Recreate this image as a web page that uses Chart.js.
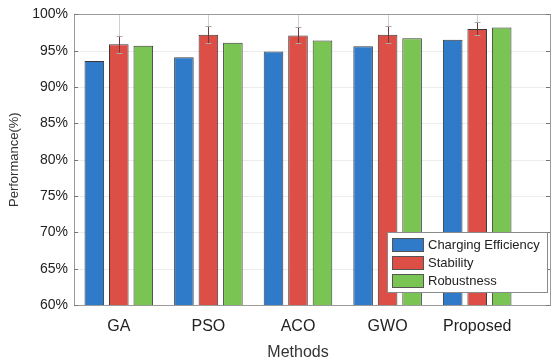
<!DOCTYPE html>
<html><head><meta charset="utf-8">
<script src="https://cdn.jsdelivr.net/npm/chart.js@4"></script>
<style>html,body{margin:0;padding:0;background:#fff}#c{display:block}</style>
</head><body>
<canvas id="c" width="554" height="364"></canvas>
<script>
const categories = ['GA','PSO','ACO','GWO','Proposed'];
const chargingEfficiency = [93.6, 94.1, 94.9, 95.6, 96.5];
const stability = [95.9, 97.2, 97.1, 97.2, 98.0];
const robustness = [95.7, 96.1, 96.4, 96.7, 98.2];
const stabilityError = [1.15, 1.15, 1.1, 1.2, 0.9];
const yTicks = [60,65,70,75,80,85,90,95,100];
const seriesNames = ['Charging Efficiency','Stability','Robustness'];
const colors = ['#2f7bc9','#dd4f46','#79c453'];

const FRAME_RIGHT = 550;
const FONT = '"Liberation Sans", Arial, sans-serif';

const framePlugin = {
  id:'frame',
  beforeDatasetsDraw(chart){
    const {ctx, chartArea:a, scales:{y}} = chart;
    ctx.save();
    ctx.strokeStyle = '#ececec'; ctx.lineWidth = 1;
    yTicks.forEach(t=>{
      const py = Math.round(y.getPixelForValue(t))+0.5;
      ctx.beginPath(); ctx.moveTo(a.left, py); ctx.lineTo(FRAME_RIGHT, py); ctx.stroke();
    });
    ctx.restore();
  },
  afterDatasetsDraw(chart){
    const {ctx, chartArea:a, scales:{y}} = chart;
    ctx.save();
    const meta = chart.getDatasetMeta(1);
    ctx.beginPath(); ctx.rect(a.left, a.top, FRAME_RIGHT-a.left, a.bottom-a.top); ctx.clip();
    meta.data.forEach((bar,i)=>{
      const v = stability[i], e = stabilityError[i];
      const x = Math.round(bar.x)+0.5;
      const yt = y.getPixelForValue(v+e), yb = y.getPixelForValue(v-e);
      ctx.strokeStyle = '#cfcfcf'; ctx.lineWidth = 1;
      ctx.beginPath(); ctx.moveTo(x, a.top); ctx.lineTo(x, yt); ctx.stroke();
      ctx.strokeStyle = '#6a3a38';
      ctx.beginPath(); ctx.moveTo(x, yt); ctx.lineTo(x, yb); ctx.stroke();
      ctx.strokeStyle = '#aaa';
      ctx.beginPath(); ctx.moveTo(x-3, Math.round(yt)+0.5); ctx.lineTo(x+3, Math.round(yt)+0.5); ctx.stroke();
      ctx.beginPath(); ctx.moveTo(x-3, Math.round(yb)+0.5); ctx.lineTo(x+3, Math.round(yb)+0.5); ctx.stroke();
    });
    ctx.restore();
    ctx.save();
    ctx.strokeStyle = '#9a9a9a'; ctx.lineWidth = 1;
    ctx.strokeRect(Math.round(a.left)+0.5, Math.round(a.top)+0.5, FRAME_RIGHT-Math.round(a.left), Math.round(a.bottom-a.top));
    ctx.strokeStyle = '#777';
    yTicks.forEach(t=>{
      const py = Math.round(y.getPixelForValue(t))+0.5;
      ctx.beginPath(); ctx.moveTo(a.left, py); ctx.lineTo(a.left+4, py); ctx.stroke();
      ctx.beginPath(); ctx.moveTo(FRAME_RIGHT-4, py); ctx.lineTo(FRAME_RIGHT, py); ctx.stroke();
    });
    const lx=387, ly=232, lw=160, lh=60;
    ctx.fillStyle='#fff'; ctx.fillRect(lx,ly,lw,lh);
    ctx.strokeStyle='#8a8a8a'; ctx.strokeRect(lx+0.5,ly+0.5,lw,lh);
    ctx.font = '13px '+FONT; ctx.textBaseline='middle'; ctx.textAlign='left';
    seriesNames.forEach((n,i)=>{
      const cy = ly+12+i*18;
      ctx.fillStyle=colors[i]; ctx.fillRect(lx+5, cy-6, 31, 13);
      ctx.strokeStyle='#555'; ctx.strokeRect(lx+5.5, cy-5.5, 31, 13);
      ctx.fillStyle='#222'; ctx.fillText(n, lx+41, cy+1);
    });
    ctx.restore();
  }
};

const mk = (label, data, i) => ({
  label, data, backgroundColor: colors[i], borderColor: '#3a3a3a', borderWidth: 1,
  categoryPercentage: 0.82, barPercentage: 0.8
});

new Chart(document.getElementById('c'), {
  type:'bar',
  data:{ labels: categories, datasets:[
    mk(seriesNames[0], chargingEfficiency, 0),
    mk(seriesNames[1], stability, 1),
    mk(seriesNames[2], robustness, 2)
  ]},
  options:{
    responsive:false, animation:false,
    layout:{ padding:{ left:0, right:32, top:11, bottom:0 } },
    plugins:{ legend:{display:false}, tooltip:{enabled:false} },
    scales:{
      x:{
        grid:{display:false, drawTicks:false}, border:{display:false},
        ticks:{ color:'#222', font:{family:FONT, size:16}, padding:12 },
        title:{ display:true, text:'Methods', color:'#333', font:{family:FONT, size:16}, padding:{top:4,bottom:2} },
        afterFit(s){ s.height = 59; }
      },
      y:{
        min:60, max:100,
        afterBuildTicks(s){ s.ticks = yTicks.map(v=>({value:v})); },
        grid:{display:false, drawTicks:false}, border:{display:false},
        ticks:{ color:'#222', font:{family:FONT, size:14}, padding:6, callback:v=>v+'%' },
        title:{ display:true, text:'Performance(%)', color:'#333', font:{family:FONT, size:13}, padding:{top:7,bottom:0} },
        afterFit(s){ s.width = 74; }
      }
    }
  },
  plugins:[framePlugin]
});
</script>
</body></html>
